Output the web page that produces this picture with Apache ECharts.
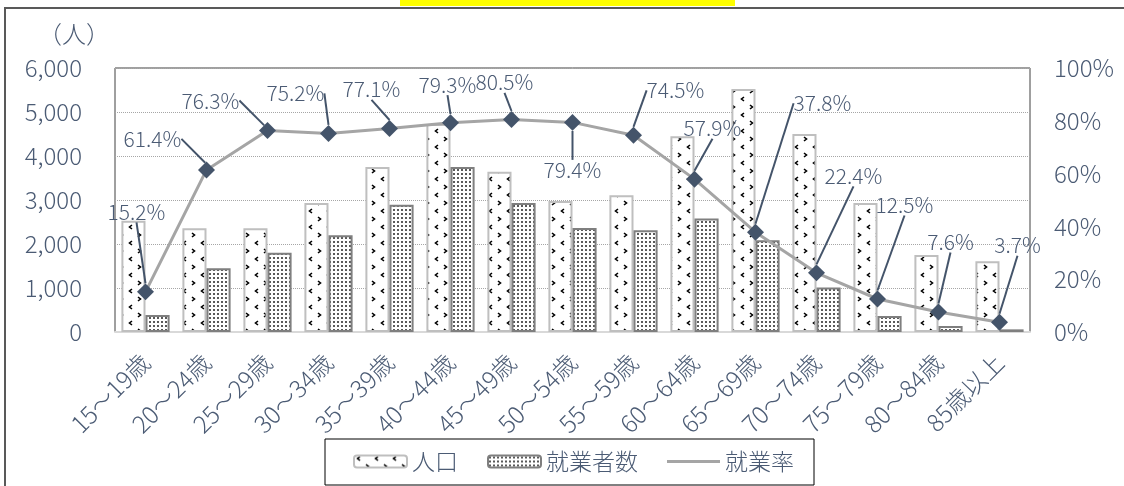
<!DOCTYPE html>
<html>
<head>
<meta charset="utf-8">
<script src="https://cdn.jsdelivr.net/npm/echarts@6/dist/echarts.min.js"></script>
<style>html,body{margin:0;padding:0;background:#fff;}#c{width:1124px;height:486px;}</style>
</head>
<body>
<div id="c"></div>
<script>
const categories = ['15～19歳','20～24歳','25～29歳','30～34歳','35～39歳','40～44歳','45～49歳','50～54歳','55～59歳','60～64歳','65～69歳','70～74歳','75～79歳','80～84歳','85歳以上'];
const population = [2530, 2360, 2360, 2930, 3750, 4730, 3640, 2980, 3110, 4450, 5520, 4500, 2930, 1750, 1610];
const employed = [385, 1450, 1800, 2200, 2890, 3750, 2930, 2365, 2315, 2580, 2085, 1010, 365, 135, 60];
const rate = [15.2, 61.4, 76.3, 75.2, 77.1, 79.3, 80.5, 79.4, 74.5, 57.9, 37.8, 22.4, 12.5, 7.6, 3.7];
const leftTicks = [0, 1000, 2000, 3000, 4000, 5000, 6000];
const rightTicks = [0, 20, 40, 60, 80, 100];
// label offsets (label centre relative to marker), px
const labelOffsets = [[-9,-80],[-54,-31],[-57,-30],[-33,-40],[-18,-39],[-3,-38],[-7,-37],[0,48],[42,-45],[18,-51],[67,-129],[37,-97],[27,-94],[12,-70],[18,-77]];
// leader lines with an elbow: 'L' = from label's right side, 'R' = from label's left side
const elbowLeaders = { 1: 'L', 2: 'L', 10: 'R' };

function patPop() {
  const c = document.createElement('canvas');
  c.width = 18; c.height = 16;
  const g = c.getContext('2d');
  g.fillStyle = '#fff'; g.fillRect(0, 0, 18, 16);
  g.strokeStyle = '#000'; g.lineWidth = 1.6;
  g.beginPath(); g.moveTo(6, 1); g.lineTo(3.5, 3); g.lineTo(6, 5); g.stroke();
  g.beginPath(); g.moveTo(12, 9); g.lineTo(14.5, 11); g.lineTo(12, 13); g.stroke();
  return c;
}
function patEmp() {
  const c = document.createElement('canvas');
  c.width = 4; c.height = 4;
  const g = c.getContext('2d');
  g.fillStyle = '#fff'; g.fillRect(0, 0, 4, 4);
  g.fillStyle = '#5a5a5a'; g.fillRect(1, 1, 2, 2);
  return c;
}

const txt = '#4b5b74';
const font = 'Noto Sans CJK JP';
const fw = 300;

function layoutLabel(p) {
  const o = labelOffsets[p.dataIndex];
  const res = { dx: o[0], dy: o[1] };
  const kind = elbowLeaders[p.dataIndex];
  if (kind && p.rect && p.labelRect) {
    const mx = p.rect.x + p.rect.width / 2;
    const my = p.rect.y + p.rect.height / 2;
    const lr = p.labelRect;
    const cy = lr.y + o[1] + lr.height / 2;
    if (kind === 'L') {
      const right = lr.x + o[0] + lr.width;
      res.labelLinePoints = [[right + 4, cy], [mx - 4, cy], [mx, my - 5]];
    } else {
      const left = lr.x + o[0];
      res.labelLinePoints = [[left - 4, cy], [mx + 18, cy], [mx + 3, my - 5]];
    }
  }
  return res;
}

const chart = echarts.init(document.getElementById('c'));
chart.setOption({
  animation: false,
  textStyle: { fontFamily: font, fontWeight: fw },
  graphic: [
    { type: 'rect', shape: { x: 5, y: 8, width: 1140, height: 520 }, style: { fill: 'none', stroke: '#595959', lineWidth: 2 }, z: -1 },
    { type: 'rect', shape: { x: 400, y: 0, width: 335, height: 6 }, style: { fill: '#ffff00' }, z: -1 }
  ],
  grid: { left: 115, right: 94, top: 68, bottom: 154, show: true, borderColor: '#404040', borderWidth: 1 },
  legend: {
    left: 325, top: 439,
    padding: [11, 20, 12, 28],
    itemWidth: 53, itemHeight: 12, itemGap: 29,
    borderColor: '#000', borderWidth: 1,
    textStyle: { color: txt, fontSize: 23, fontFamily: font, fontWeight: fw },
    data: [
      { name: '人口' },
      { name: '就業者数' },
      { name: '就業率', icon: 'path://M0,0h50v3h-50z', itemStyle: { color: '#a5a5a5' } }
    ]
  },
  xAxis: {
    type: 'category',
    data: categories,
    axisTick: { show: false },
    axisLine: { lineStyle: { color: '#d9d9d9', width: 2 } },
    axisLabel: { interval: 0, rotate: 45, fontSize: 24, color: txt, margin: 26, fontFamily: font, fontWeight: fw }
  },
  yAxis: [
    {
      type: 'value', min: 0, max: 6000, interval: 1000,
      name: '（人）', nameLocation: 'end', nameGap: 22,
      nameTextStyle: { color: txt, fontSize: 24, align: 'right', padding: [0, 5, 0, 0], fontFamily: font, fontWeight: fw },
      axisLine: { show: false }, axisTick: { show: false },
      axisLabel: { color: txt, fontSize: 24, margin: 33, fontFamily: font, fontWeight: fw,
        formatter: v => v.toLocaleString('en-US') },
      splitLine: { lineStyle: { color: '#a6a6a6', type: 'dotted', width: 1 } }
    },
    {
      type: 'value', min: 0, max: 100, interval: 20,
      axisLine: { show: false }, axisTick: { show: false },
      axisLabel: { color: txt, fontSize: 24, margin: 24, formatter: '{value}%', fontFamily: font, fontWeight: fw },
      splitLine: { show: false }
    }
  ],
  series: [
    {
      name: '人口', type: 'bar', data: population, barGap: '0%', barCategoryGap: '21%',
      itemStyle: { color: { image: patPop(), repeat: 'repeat' }, borderColor: '#bfbfbf', borderWidth: 2 }
    },
    {
      name: '就業者数', type: 'bar', data: employed,
      itemStyle: { color: { image: patEmp(), repeat: 'repeat' }, borderColor: '#7f7f7f', borderWidth: 2 }
    },
    {
      name: '就業率', type: 'line', yAxisIndex: 1, data: rate,
      symbol: 'rect', symbolSize: 12, symbolRotate: 45, z: 5,
      lineStyle: { color: '#a5a5a5', width: 3 },
      itemStyle: { color: '#44546a' },
      label: { show: true, position: 'inside', color: txt, fontSize: 21, fontFamily: font, fontWeight: fw,
        formatter: p => p.value.toFixed(1) + '%' },
      labelLine: { show: true, lineStyle: { color: '#44546a', width: 2 } },
      labelLayout: layoutLabel
    }
  ]
});
</script>
</body>
</html>
